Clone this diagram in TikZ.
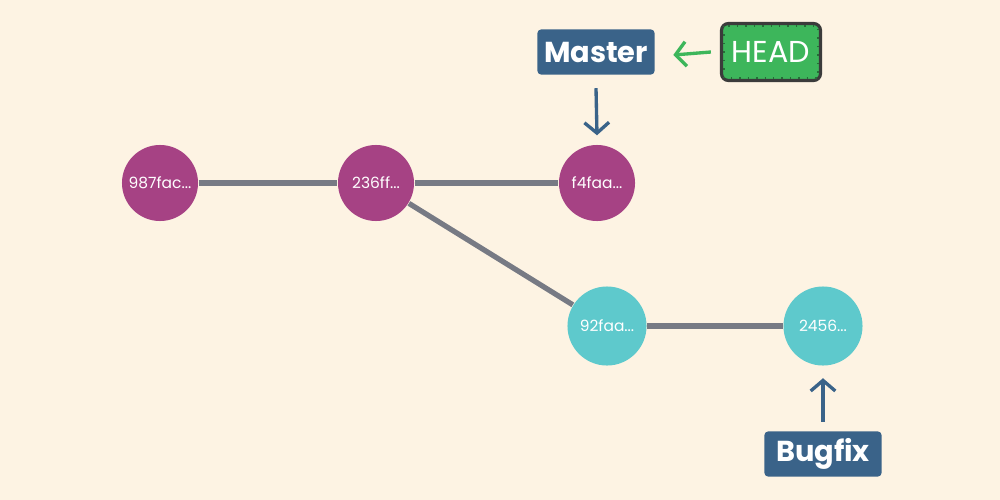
\documentclass[tikz,border=0pt]{standalone}
\usepackage{fontspec}
\setmainfont{Poppins}
\usetikzlibrary{arrows.meta}
\definecolor{bgcol}{HTML}{FDF3E3}
\definecolor{mastercol}{HTML}{A64284}
\definecolor{bugcol}{HTML}{5EC9CC}
\definecolor{linkcol}{HTML}{777A84}
\definecolor{refcol}{HTML}{3A6389}
\definecolor{headcol}{HTML}{3DB65B}
\definecolor{headrim}{HTML}{3B3B3B}
\tikzset{
  commit/.style={circle, fill=#1, minimum size=0.76cm, inner sep=0pt, text=white, font=\fontsize{4.4}{5}\selectfont},
  link/.style={draw=linkcol, line width=1.5pt},
  refbox/.style={fill=refcol, rounded corners=1pt, minimum width=1.17cm, minimum height=0.45cm, inner sep=0pt, text=white, font=\fontsize{8.2}{10}\selectfont\bfseries},
  pointer/.style={draw=#1, line width=0.95pt, -{Straight Barb[length=3pt, width=7pt, line width=0.95pt]}}
}
\begin{document}
\begin{tikzpicture}[x=0.01cm, y=-0.01cm]
\fill[bgcol] (0,0) rectangle (1000,500);
\node[commit=mastercol] (c987) at (160,183) {987fac...};
\node[commit=mastercol] (c236) at (376,183) {236ff...};
\node[commit=mastercol] (cf4f) at (597,183) {f4faa...};
\node[commit=bugcol, minimum size=0.79cm] (c92f) at (607,326) {92faa...};
\node[commit=bugcol, minimum size=0.79cm] (c245) at (823,326) {2456...};
\draw[link] (c987) -- (c236);
\draw[link] (c236) -- (cf4f);
\draw[link] (c236) -- (c92f);
\draw[link] (c92f) -- (c245);
\node[refbox] (master) at (596,52) {Master};
\node[refbox] (bugfix) at (823,454) {Bugfix};
\node[fill=headcol, draw=headrim, line width=0.9pt, rounded corners=2pt, minimum width=0.99cm, minimum height=0.57cm, inner sep=0pt, text=white, font=\fontsize{8.6}{10}\selectfont] (head) at (771,52) {HEAD};
\draw[headcol!60!black, dotted, line width=0.4pt] ([shift={(4,4)}]head.north west) rectangle ([shift={(-4,-4)}]head.south east);
\draw[pointer=headcol] ([xshift=-0.09cm]head.west) -- ([xshift=0.18cm,yshift=-0.03cm]master.east);
\draw[pointer=refcol] ([yshift=-0.13cm]master.south) -- ([yshift=0.09cm]cf4f.north);
\draw[pointer=refcol] ([yshift=0.09cm]bugfix.north) -- ([yshift=-0.12cm]c245.south);
\end{tikzpicture}
\end{document}
